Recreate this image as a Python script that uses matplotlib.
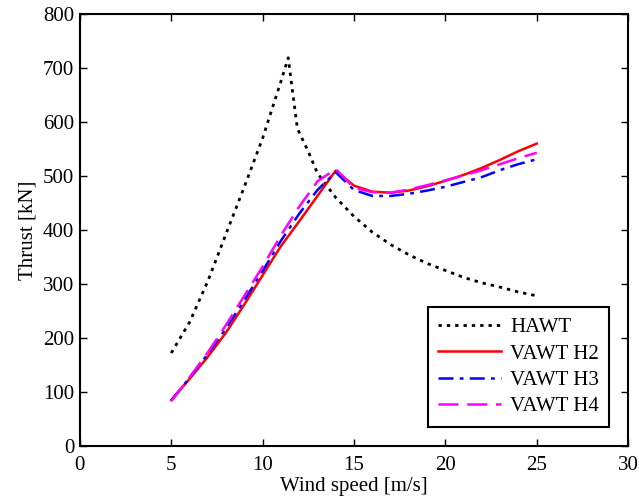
import matplotlib.pyplot as plt
import numpy as np

plt.rcParams['font.family'] = ['Liberation Serif', 'DejaVu Serif']

# HAWT thrust curve (peak near rated speed)
hawt_v = [5, 6, 7, 8, 9, 10, 11, 11.4, 11.9, 12.5, 13, 14, 15, 16, 17, 18, 19, 20, 21, 22, 23, 24, 25]
hawt_t = [172, 229, 305, 393, 480, 570, 675, 719, 588, 545, 505, 460, 425, 396, 373, 354, 338, 325, 312, 302, 294, 285, 278]

# VAWT thrust curves
vawt_v = [5, 6, 7, 8, 9, 10, 11, 12, 13, 14, 15, 16, 17, 18, 19, 20, 21, 22, 23, 24, 25]
vawt_h2 = [85, 124, 165, 210, 262, 316, 370, 416, 463, 510, 482, 471, 469, 473, 481, 491, 502, 515, 530, 546, 560]
vawt_h3 = [84, 126, 170, 218, 270, 324, 380, 430, 474, 507, 474, 463, 463, 467, 473, 480, 489, 498, 511, 522, 531]
vawt_h4 = [83, 127, 173, 224, 278, 332, 390, 443, 490, 513, 478, 470, 469, 475, 483, 492, 501, 511, 522, 533, 543]

fig = plt.figure(figsize=(6.39, 5.01), dpi=100)
ax = fig.add_axes([0.125, 0.11, 0.858, 0.862])

ax.plot(hawt_v, hawt_t, color='k', linestyle=(0, (1.2, 1.8)), lw=2, label='HAWT')
ax.plot(vawt_v, vawt_h2, color='red', linestyle='-', lw=1.8, label='VAWT H2')
ax.plot(vawt_v, vawt_h3, color='blue', linestyle=(0, (6, 2.5, 1.5, 2.5)), lw=1.8, label='VAWT H3')
ax.plot(vawt_v, vawt_h4, color='magenta', linestyle=(0, (8, 3.5)), lw=1.8, label='VAWT H4')

ax.set_xlim(0, 30)
ax.set_ylim(0, 800)
ax.set_xticks(np.arange(0, 31, 5))
ax.set_yticks(np.arange(0, 801, 100))
ax.tick_params(direction='in', length=5, width=1, top=True, right=True, labelsize=15, pad=4)
ax.tick_params(axis='x', pad=7)
for s in ax.spines.values():
    s.set_linewidth(1.5)

ax.set_xlabel('Wind speed [m/s]', fontsize=15, labelpad=2)
ax.set_ylabel('Thrust [kN]', fontsize=15, labelpad=4)

leg = ax.legend(loc='lower right', fontsize=15, fancybox=False, edgecolor='k',
                framealpha=1, handlelength=3.0, handletextpad=0.45,
                labelspacing=0.33, borderpad=0.5, bbox_to_anchor=(0.985, 0.02))
leg.get_frame().set_linewidth(1.5)

fig.savefig('out.png', dpi=100)
